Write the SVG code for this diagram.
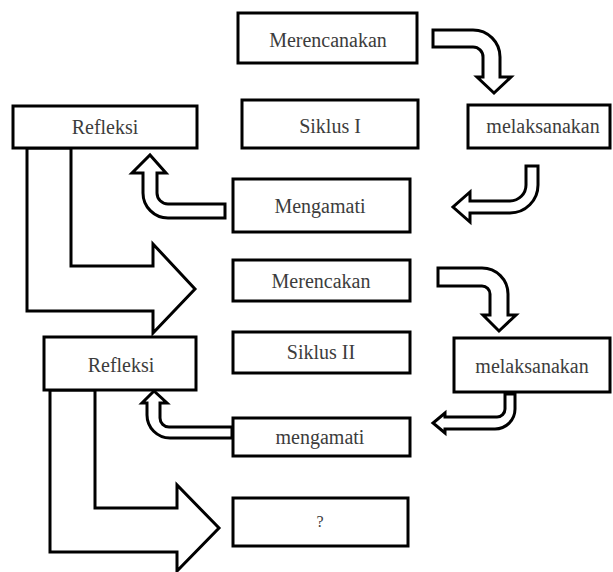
<svg xmlns="http://www.w3.org/2000/svg" width="613" height="572" viewBox="0 0 613 572">
<style>
.box{fill:#fff;stroke:#000;stroke-width:3}
.arr{fill:#fff;stroke:#000;stroke-width:3;stroke-linejoin:miter}
.t{font-family:"Liberation Serif","Times New Roman",serif;font-size:20px;fill:#3c3c3c;text-anchor:middle}
</style>
<rect width="613" height="572" fill="#fff"/>
<g id="connectors">
<path class="arr" d="M 433 30 H 473 A 27 27 0 0 1 500 57 V 77 H 511 L 494 93 L 477 77 H 483 V 57 A 10 10 0 0 0 473 47 H 433 Z"/>
<path class="arr" d="M 526 166 H 538 V 185 A 28 28 0 0 1 510 213 H 470 V 222 L 453 207 L 470 192 V 201 H 510 A 16 16 0 0 0 526 185 Z"/>
<path class="arr" d="M 225 204 V 218 H 168 A 25 25 0 0 1 143 193 V 173 H 132 L 150 155 L 166 173 H 157 V 193 A 11 11 0 0 0 168 204 Z"/>
<path class="arr" d="M 71 148 V 266 H 153 V 244 L 195 289 L 153 333 V 311 H 27 V 148 Z"/>
<path class="arr" d="M 438 268 H 482 A 26 26 0 0 1 508 294 V 315 H 516 L 499 331 L 483 315 H 490 V 294 A 8 8 0 0 0 482 286 H 438 Z"/>
<path class="arr" d="M 505 394 H 515 V 409 A 20 20 0 0 1 495 429 H 445 V 433 L 433 423 L 445 413 V 417 H 497 A 8 8 0 0 0 505 409 Z"/>
<path class="arr" d="M 232 427 V 438 H 170 A 23 23 0 0 1 147 415 V 403 H 142 L 154 391 L 167 403 H 160 V 418 A 9 9 0 0 0 169 427 Z"/>
<path class="arr" d="M 95 390 V 508 H 177 V 485 L 219 528 L 177 571 V 552 H 50 V 390 Z"/>
</g>
<g id="merencanakan"><rect class="box" x="238" y="13" width="179" height="50"/><text class="t" x="328" y="47">Merencanakan</text></g>
<g id="siklus1"><rect class="box" x="242" y="100" width="176" height="48"/><text class="t" x="330" y="133">Siklus I</text></g>
<g id="melaksanakan1"><rect class="box" x="468" y="105" width="142" height="43"/><text class="t" x="543" y="133">melaksanakan</text></g>
<g id="refleksi1"><rect class="box" x="13" y="106" width="184" height="42"/><text class="t" x="105" y="134">Refleksi</text></g>
<g id="mengamati1"><rect class="box" x="233" y="179" width="177" height="53"/><text class="t" x="320" y="213">Mengamati</text></g>
<g id="merencakan"><rect class="box" x="233" y="260" width="177" height="41"/><text class="t" x="321" y="288">Merencakan</text></g>
<g id="siklus2"><rect class="box" x="233" y="332" width="177" height="41"/><text class="t" x="321" y="359">Siklus II</text></g>
<g id="melaksanakan2"><rect class="box" x="454" y="338" width="156" height="54"/><text class="t" x="532" y="373">melaksanakan</text></g>
<g id="refleksi2"><rect class="box" x="44" y="337" width="152" height="53"/><text class="t" x="121" y="372">Refleksi</text></g>
<g id="mengamati2"><rect class="box" x="233" y="418" width="177" height="38"/><text class="t" x="320" y="444">mengamati</text></g>
<g id="question"><rect class="box" x="233" y="498" width="175" height="48"/><text class="t" x="320" y="527" style="font-size:16px">?</text></g>
</svg>
